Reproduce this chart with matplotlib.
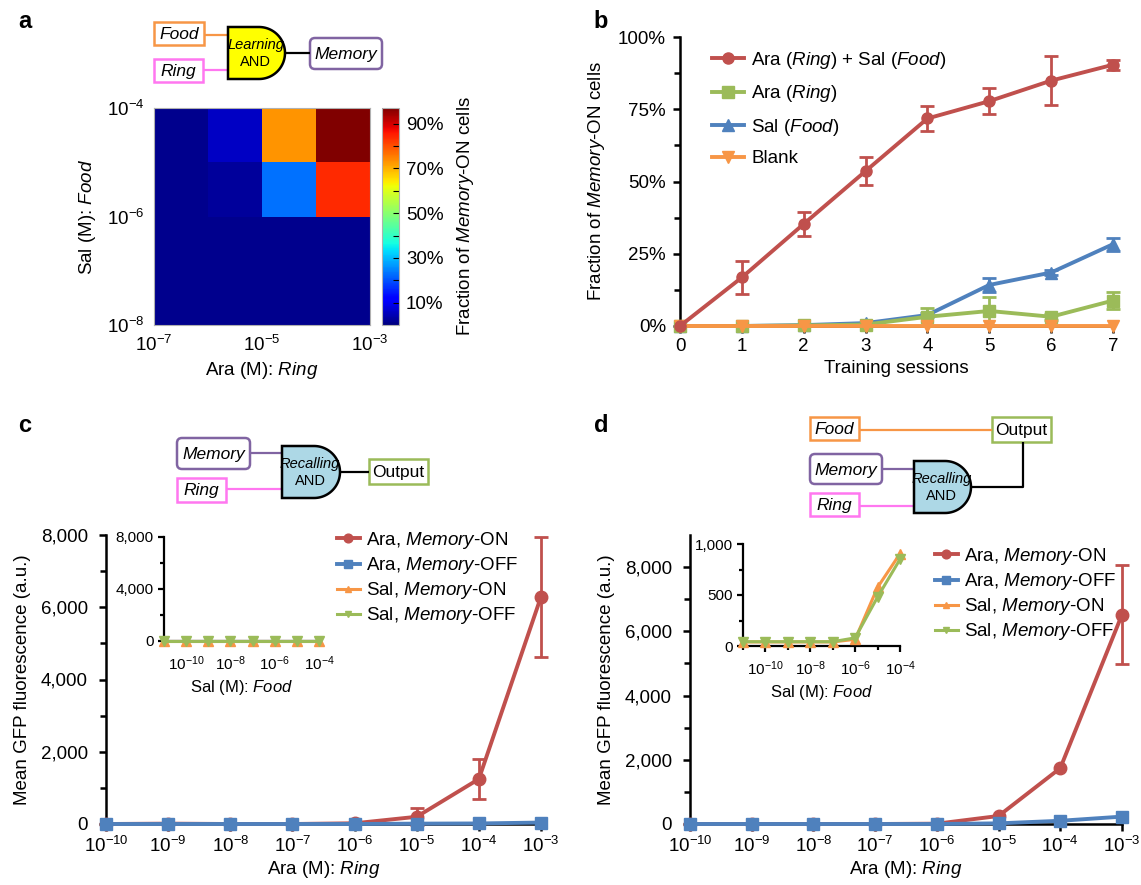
import numpy as np
import matplotlib
matplotlib.use('agg')
import matplotlib.pyplot as plt
from matplotlib.patches import FancyBboxPatch, Rectangle, Polygon
from matplotlib.ticker import FixedLocator, FuncFormatter, NullFormatter

plt.rcParams['font.family'] = ['Liberation Sans', 'DejaVu Sans']
plt.rcParams['mathtext.fontset'] = 'custom'
plt.rcParams['mathtext.rm'] = 'Liberation Sans'
plt.rcParams['mathtext.it'] = 'Liberation Sans:italic'
plt.rcParams['mathtext.bf'] = 'Liberation Sans:bold'
plt.rcParams['mathtext.default'] = 'regular'

# ---- data -------------------------------------------------------------
# a: fraction of Memory-ON cells (%), rows = Sal bins (low -> high), cols = Ara bins
ara_edges = [1e-7, 1e-6, 1e-5, 1e-4, 1e-3]
sal_edges = [1e-8, 1e-7, 1e-6, 1e-5, 1e-4]
memory_on_pct = [
    [1.5, 1.5, 1.5, 1.5],
    [1.5, 1.5, 1.5, 1.5],
    [1.5, 2.5, 23.0, 84.0],
    [1.5, 6.0, 73.0, 97.0],
]

# b: training sessions
sessions = [0, 1, 2, 3, 4, 5, 6, 7]
ring_food = [0, 16.8, 35.3, 53.6, 71.8, 77.8, 84.9, 90.4]
ring_food_err = [0, 5.7, 4.0, 4.8, 4.4, 4.6, 8.5, 1.7]
ring_only = [0, 0, 0.2, 0.5, 3.2, 5.2, 3.2, 8.8]
ring_only_err = [0, 0, 0, 0, 3.2, 4.9, 1.0, 3.0]
food_only = [0, 0, 0.3, 1.0, 3.8, 14.2, 18.5, 28.3]
food_only_err = [0, 0, 0, 0, 0.8, 2.3, 0.8, 2.2]
blank = [0, 0, 0, 0, 0, 0, 0, 0]

# c, d: GFP vs Ara (main) and vs Sal (inset)
ara_conc = [1e-10, 1e-9, 1e-8, 1e-7, 1e-6, 1e-5, 1e-4, 1e-3]
sal_conc = [1e-11, 1e-10, 1e-9, 1e-8, 1e-7, 1e-6, 1e-5, 1e-4]

c_ara_on = [0, 10, 0, 0, 20, 200, 1245, 6290]
c_ara_on_err = [0, 0, 0, 0, 0, 230, 550, 1660]
c_ara_off = [0, 0, 0, 0, 0, 10, 15, 40]
c_sal_on = [30, 30, 30, 30, 30, 30, 30, 30]
c_sal_off = [30, 30, 30, 30, 30, 30, 30, 30]

d_ara_on = [0, 0, 0, 0, 10, 250, 1740, 6520]
d_ara_on_err = [0, 0, 0, 0, 0, 0, 0, 1535]
d_ara_off = [0, 0, 0, 0, 0, 20, 100, 230]
d_sal_on = [40, 40, 40, 40, 40, 65, 575, 905]
d_sal_off = [42, 42, 42, 42, 42, 80, 480, 850]

RED = '#C0504D'
BLUE = '#4F81BD'
GREEN = '#9BBB59'
ORANGE = '#F79646'
PURPLE = '#8064A2'
PINK = '#FF77F0'

W, H = 1141, 885
fig = plt.figure(figsize=(W / 100, H / 100), dpi=100)


def box_px(l, t, r, b):
    return [l / W, 1 - b / H, (r - l) / W, (b - t) / H]


def style_axes(ax, lw=1.8):
    for s in ['top', 'right']:
        ax.spines[s].set_visible(False)
    for s in ['left', 'bottom']:
        ax.spines[s].set_linewidth(lw)
    ax.tick_params(which='both', direction='out', width=lw, colors='black')
    ax.tick_params(which='major', length=5)
    ax.tick_params(which='minor', length=4)


def log_label(v):
    return r'$10^{%d}$' % int(round(np.log10(v)))


def comma(v, pos=None):
    return '{:,.0f}'.format(v)


# ---- diagrams ---------------------------------------------------------
ov = fig.add_axes([0, 0, 1, 1])
ov.set_xlim(0, W)
ov.set_ylim(H, 0)
ov.axis('off')


def diag_box(l, t, r, b, text, color, italic=True, rounded=False):
    if rounded:
        p = FancyBboxPatch((l, t), r - l, b - t, boxstyle='round,pad=0,rounding_size=5',
                           fc='white', ec=color, lw=1.8)
    else:
        p = Rectangle((l, t), r - l, b - t, fc='white', ec=color, lw=1.8)
    ov.add_patch(p)
    ov.text((l + r) / 2, (t + b) / 2 + 1, text, ha='center', va='center', fontsize=12.5,
            style='italic' if italic else 'normal')


def gate(l, t, r, b, color, word):
    rad = (b - t) / 2
    cx, cy = r - rad, (t + b) / 2
    th = np.linspace(-np.pi / 2, np.pi / 2, 60)
    arc = np.column_stack([cx + rad * np.cos(th), cy + rad * np.sin(th)])
    pts = np.vstack([[l, t], arc, [l, b]])
    ov.add_patch(Polygon(pts, closed=True, fc=color, ec='black', lw=1.8, zorder=3))
    ov.text((l + r) / 2 - 1, cy - 8, word, ha='center', va='center', fontsize=10.5,
            style='italic', zorder=4)
    ov.text((l + r) / 2 - 1, cy + 9, 'AND', ha='center', va='center', fontsize=10.5, zorder=4)


def wire(xs, ys, color):
    ov.plot(xs, ys, color=color, lw=1.6, solid_capstyle='butt', zorder=2)


# a
wire([204, 228], [35, 35], ORANGE)
wire([203, 228], [70, 70], PINK)
wire([285, 310], [53, 53], 'black')
diag_box(154, 22, 204, 45, 'Food', ORANGE)
diag_box(154, 59, 203, 82, 'Ring', PINK)
diag_box(310, 38, 382, 69, 'Memory', PURPLE, rounded=True)
gate(228, 27, 285, 79, '#FFFF00', 'Learning')

# c
wire([250, 282], [453, 453], PURPLE)
wire([226, 282], [489, 489], PINK)
wire([340, 369], [472, 472], 'black')
diag_box(177, 438, 250, 469, 'Memory', PURPLE, rounded=True)
diag_box(177, 478, 226, 502, 'Ring', PINK)
diag_box(369, 459, 428, 484, 'Output', GREEN, italic=False)
gate(282, 446, 340, 498, '#ADD8E6', 'Recalling')

# d
wire([859, 992], [430, 430], ORANGE)
wire([882, 914], [469, 469], PURPLE)
wire([859, 914], [506, 506], PINK)
wire([971, 1023, 1023], [487, 487, 442], 'black')
diag_box(810, 417, 859, 440, 'Food', ORANGE)
diag_box(992, 417, 1051, 442, 'Output', GREEN, italic=False)
diag_box(810, 454, 882, 484, 'Memory', PURPLE, rounded=True)
diag_box(810, 493, 859, 516, 'Ring', PINK)
gate(914, 461, 971, 513, '#ADD8E6', 'Recalling')

# panel letters
for lab, x, y in [('a', 18, 22), ('b', 593, 22), ('c', 18, 425), ('d', 594, 425)]:
    fig.text(x / W, 1 - y / H, lab, fontsize=17, fontweight='bold', ha='left', va='center')

# ---- a: heatmap ---------------------------------------------------------
ax_a = fig.add_axes(box_px(154, 108, 370, 325))
mesh = ax_a.pcolormesh(ara_edges, sal_edges, np.array(memory_on_pct), cmap='jet',
                       vmin=0, vmax=97)
ax_a.set_xscale('log')
ax_a.set_yscale('log')
ax_a.set_xlim(1e-7, 1e-3)
ax_a.set_ylim(1e-8, 1e-4)
ax_a.xaxis.set_major_locator(FixedLocator([1e-7, 1e-5, 1e-3]))
ax_a.yaxis.set_major_locator(FixedLocator([1e-8, 1e-6, 1e-4]))
ax_a.xaxis.set_minor_locator(FixedLocator([]))
ax_a.yaxis.set_minor_locator(FixedLocator([]))
ax_a.xaxis.set_major_formatter(FuncFormatter(lambda v, p: log_label(v)))
ax_a.yaxis.set_major_formatter(FuncFormatter(lambda v, p: log_label(v)))
ax_a.tick_params(length=0, labelsize=13.5, pad=7)
for s in ax_a.spines.values():
    s.set_color('#b0b0b0')
    s.set_linewidth(0.8)
ax_a.set_xlabel(r'Ara (M): $\mathit{Ring}$', fontsize=13.5, labelpad=4)
ax_a.set_ylabel(r'Sal (M): $\mathit{Food}$', fontsize=13.5, labelpad=6)

cax = fig.add_axes(box_px(382, 108, 399, 325))
cb = fig.colorbar(mesh, cax=cax, ticks=[10, 30, 50, 70, 90])
cb.ax.yaxis.set_major_formatter(FuncFormatter(lambda v, p: '%d%%' % v))
cb.ax.yaxis.set_minor_locator(FixedLocator([20, 40, 60, 80]))
cb.ax.tick_params(which='both', direction='in', length=4, width=0.8, labelsize=13.5, pad=5)
cb.outline.set_linewidth(0.8)
cb.outline.set_edgecolor('#b0b0b0')
cb.set_label(r'Fraction of $\mathit{Memory}$-ON cells', fontsize=13.5, labelpad=8)

# ---- b: training ---------------------------------------------------------
ax_b = fig.add_axes(box_px(680, 37, 1113, 326))
style_axes(ax_b)


def err_series(ax, x, y, e, color, marker, label, z, ms=8):
    ax.plot(x, y, color=color, marker=marker, ms=ms, lw=2.8, label=label,
            clip_on=False, zorder=z)
    idx = [i for i, v in enumerate(e) if v > 0]
    if idx:
        ax.errorbar([x[i] for i in idx], [y[i] for i in idx], yerr=[e[i] for i in idx],
                    fmt='none', ecolor=color, elinewidth=2, capsize=5, capthick=2,
                    clip_on=False, zorder=z)


err_series(ax_b, sessions, food_only, food_only_err, BLUE, '^', r'Sal ($\mathit{Food}$)', 3)
err_series(ax_b, sessions, ring_only, ring_only_err, GREEN, 's', r'Ara ($\mathit{Ring}$)', 4)
err_series(ax_b, sessions, blank, blank, ORANGE, 'v', 'Blank', 5)
err_series(ax_b, sessions, ring_food, ring_food_err, RED, 'o',
           r'Ara ($\mathit{Ring}$) + Sal ($\mathit{Food}$)', 6)
ax_b.set_xlim(0, 7)
ax_b.set_ylim(0, 100)
ax_b.set_xticks(sessions)
ax_b.set_yticks([0, 25, 50, 75, 100])
ax_b.yaxis.set_minor_locator(FixedLocator([12.5, 37.5, 62.5, 87.5]))
ax_b.yaxis.set_major_formatter(FuncFormatter(lambda v, p: '%d%%' % v))
ax_b.tick_params(labelsize=13.5)
ax_b.tick_params(axis='y', pad=5)
ax_b.set_xlabel('Training sessions', fontsize=13.5, labelpad=4)
ax_b.set_ylabel(r'Fraction of $\mathit{Memory}$-ON cells', fontsize=13.5, labelpad=8)
hb, lb = ax_b.get_legend_handles_labels()
order = [3, 1, 0, 2]
ax_b.legend([hb[i] for i in order], [lb[i] for i in order], loc='upper left',
            bbox_to_anchor=(712 / W, 1 - 50 / H), bbox_transform=fig.transFigure,
            frameon=False, fontsize=13.5, handlelength=1.7, handletextpad=0.4,
            labelspacing=0.66, borderpad=0, borderaxespad=0)


# ---- c, d: GFP ------------------------------------------------------------
def gfp_main(rect, on, on_err, off, ytop):
    ax = fig.add_axes(box_px(*rect))
    style_axes(ax)
    ax.set_xscale('log')
    err_series(ax, ara_conc, on, on_err, RED, 'o', r'Ara, $\mathit{Memory}$-ON', 4, ms=9)
    ax.plot(ara_conc, off, color=BLUE, marker='s', ms=9, lw=2.8, clip_on=False,
            zorder=5, label=r'Ara, $\mathit{Memory}$-OFF')
    ax.set_xlim(1e-10, 1e-3)
    ax.set_ylim(0, ytop)
    ax.xaxis.set_major_locator(FixedLocator(ara_conc))
    ax.xaxis.set_minor_locator(FixedLocator([]))
    ax.xaxis.set_major_formatter(FuncFormatter(lambda v, p: log_label(v)))
    ax.set_yticks([0, 2000, 4000, 6000, 8000])
    ax.yaxis.set_minor_locator(FixedLocator([1000, 3000, 5000, 7000]))
    ax.yaxis.set_major_formatter(FuncFormatter(comma))
    ax.tick_params(labelsize=13.5)
    ax.tick_params(axis='y', pad=8)
    ax.set_xlabel(r'Ara (M): $\mathit{Ring}$', fontsize=13.5, labelpad=2)
    ax.set_ylabel('Mean GFP fluorescence (a.u.)', fontsize=13.5, labelpad=7)
    return ax


def gfp_inset(rect, s_on, s_off, ytop, yticks, yminor):
    ax = fig.add_axes(box_px(*rect))
    style_axes(ax, lw=1.6)
    ax.set_xscale('log')
    ax.plot(sal_conc, s_on, color=ORANGE, marker='^', ms=7, lw=2.2, clip_on=False,
            zorder=4, label=r'Sal, $\mathit{Memory}$-ON')
    ax.plot(sal_conc, s_off, color=GREEN, marker='v', ms=7, lw=2.2, clip_on=False,
            zorder=5, label=r'Sal, $\mathit{Memory}$-OFF')
    ax.set_xlim(1e-11, 1e-4)
    ax.set_ylim(0, ytop)
    ax.xaxis.set_major_locator(FixedLocator([1e-10, 1e-8, 1e-6, 1e-4]))
    ax.xaxis.set_minor_locator(FixedLocator([1e-11, 1e-9, 1e-7, 1e-5]))
    ax.xaxis.set_major_formatter(FuncFormatter(lambda v, p: log_label(v)))
    ax.xaxis.set_minor_formatter(NullFormatter())
    ax.set_yticks(yticks)
    ax.yaxis.set_minor_locator(FixedLocator(yminor))
    ax.yaxis.set_major_formatter(FuncFormatter(comma))
    ax.tick_params(labelsize=11)
    ax.tick_params(which='major', length=4)
    ax.tick_params(which='minor', length=3)
    ax.tick_params(axis='x', pad=6)
    ax.set_xlabel(r'Sal (M): $\mathit{Food}$', fontsize=12, labelpad=3)
    ax.patch.set_alpha(0)
    return ax


def gfp_legend(ax, ins, x, y):
    h1, l1 = ax.get_legend_handles_labels()
    h2, l2 = ins.get_legend_handles_labels()
    ax.legend(h1 + h2, l1 + l2, loc='upper left', bbox_to_anchor=(x / W, 1 - y / H),
              bbox_transform=fig.transFigure, frameon=False, fontsize=13.5,
              handlelength=1.2, handletextpad=0.35, labelspacing=0.22,
              borderpad=0, borderaxespad=0, markerscale=0.7)


ax_c = gfp_main((106, 535, 541, 824), c_ara_on, c_ara_on_err, c_ara_off, 8000)
ins_c = gfp_inset((164, 537, 319, 641), c_sal_on, c_sal_off, 8000,
                  [0, 4000, 8000], [2000, 6000])
gfp_legend(ax_c, ins_c, 337, 530)

ax_d = gfp_main((690, 535, 1122, 824), d_ara_on, d_ara_on_err, d_ara_off, 9000)
ins_d = gfp_inset((743, 544, 900, 646), d_sal_on, d_sal_off, 1000,
                  [0, 500, 1000], [250, 750])
gfp_legend(ax_d, ins_d, 935, 546)

fig.savefig('out.png', dpi=100)
